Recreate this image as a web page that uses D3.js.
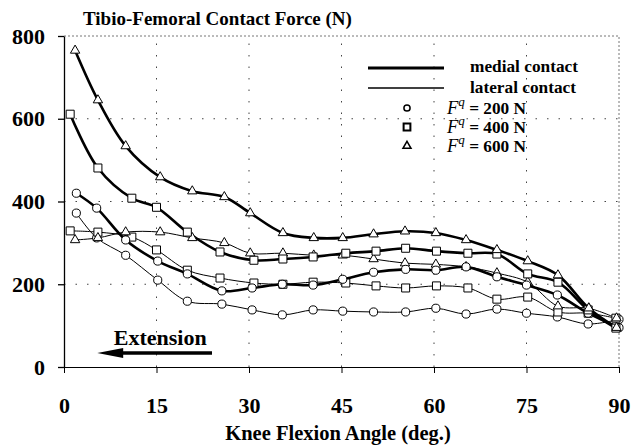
<!DOCTYPE html>
<html>
<head>
<meta charset="utf-8">
<script src="https://cdn.jsdelivr.net/npm/d3@7"></script>
<style>
  body { margin: 0; background: #fff; }
  svg { font-family: "Liberation Serif", "Times New Roman", serif; font-weight: bold; }
</style>
</head>
<body>
<div id="chart"></div>
<script>
// tick values
const xTicks = [0, 15, 30, 45, 60, 75, 90];
const yTicks = [0, 200, 400, 600, 800];

// knee flexion angles (deg.) for each quadriceps load
const angles200 = [2, 5.3, 10, 15.2, 20, 25.6, 30.5, 35.4, 40.4, 45.2, 50.2, 55.4, 60.3, 65.2, 70.2, 75, 80, 85, 90];
const angles400 = [1, 5.5, 11, 15, 20, 25.3, 30.8, 35.5, 40.4, 45.7, 50.6, 55.4, 60.4, 65.5, 70.2, 75.2, 80.1, 85, 89.5];
const angles600 = [1.8, 5.5, 10, 15.6, 20.8, 26, 30.2, 35.5, 40.5, 45.2, 50.2, 55.3, 60.3, 65.2, 70.2, 75.2, 80.1, 85.1, 89.6];

// medial contact force (N)
const medial200 = [420, 384, 307, 256, 225, 184, 191, 200, 198, 212, 229, 236, 234, 242, 218, 198, 174, 130, 95];
const medial400 = [611, 481, 408, 386, 326, 278, 258, 261, 266, 275, 280, 287, 280, 275, 273, 225, 205, 138, 94];
const medial600 = [765, 645, 534, 459, 425, 411, 372, 324, 312, 312, 321, 328, 324, 307, 283, 256, 222, 142, 95];

// lateral contact force (N)
const lateral200 = [372, 312, 270, 210, 159, 152, 138, 126, 138, 135, 133, 133, 142, 128, 140, 130, 121, 104, 115];
const lateral400 = [329, 326, 314, 283, 234, 215, 203, 200, 205, 203, 196, 191, 196, 191, 164, 169, 133, 130, 118];
const lateral600 = [307, 312, 326, 326, 312, 300, 275, 275, 270, 270, 261, 251, 248, 242, 227, 205, 147, 142, 118];

const width = 633;
const height = 447;
const margin = { top: 36, right: 14, bottom: 80, left: 64 };

const svg = d3.select("#chart").append("svg")
  .attr("width", width)
  .attr("height", height);

const x = d3.scaleLinear().domain([0, 90]).range([margin.left, width - margin.right]);
const y = d3.scaleLinear().domain([0, 800]).range([height - margin.bottom, margin.top]);

// grid
const grid = svg.append("g").attr("stroke", "#444").attr("stroke-width", 1);
grid.selectAll(".vgrid")
  .data(xTicks.filter(d => d > 0 && d < 90))
  .join("line")
  .attr("x1", d => x(d)).attr("x2", d => x(d))
  .attr("y1", y(0)).attr("y2", y(800))
  .attr("stroke-dasharray", "1.5,10");
grid.selectAll(".hgrid")
  .data(yTicks.filter(d => d > 0 && d < 800))
  .join("line")
  .attr("x1", x(0)).attr("x2", x(90))
  .attr("y1", d => y(d)).attr("y2", d => y(d))
  .attr("stroke-dasharray", "1.5,10");
// top and right frame
grid.append("line")
  .attr("x1", x(0)).attr("x2", x(90)).attr("y1", y(800)).attr("y2", y(800))
  .attr("stroke-dasharray", "2,2").attr("stroke", "#777");
grid.append("line")
  .attr("x1", x(90)).attr("x2", x(90)).attr("y1", y(0)).attr("y2", y(800))
  .attr("stroke-dasharray", "2,2").attr("stroke", "#777");

// axes
const xAxis = d3.axisBottom(x).tickValues(xTicks).tickSize(6).tickPadding(24).tickSizeOuter(0);
const yAxis = d3.axisLeft(y).tickValues(yTicks).tickSize(6).tickPadding(13).tickSizeOuter(0);

svg.append("g")
  .attr("transform", `translate(0,${y(0)})`)
  .call(xAxis)
  .attr("font-family", null)
  .attr("font-size", 22)
  .call(g => g.selectAll("text").attr("fill", "#000"))
  .call(g => g.selectAll("line,path").attr("stroke", "#000"));

svg.append("g")
  .attr("transform", `translate(${x(0)},0)`)
  .call(yAxis)
  .attr("font-family", null)
  .attr("font-size", 22)
  .call(g => g.selectAll("text").attr("fill", "#000"))
  .call(g => g.selectAll("line,path").attr("stroke", "#000").attr("stroke-width", 1.3));

// series
const series = [
  { angles: angles200, values: lateral200, type: "lateral", marker: "circle" },
  { angles: angles400, values: lateral400, type: "lateral", marker: "square" },
  { angles: angles600, values: lateral600, type: "lateral", marker: "triangle" },
  { angles: angles200, values: medial200, type: "medial", marker: "circle" },
  { angles: angles400, values: medial400, type: "medial", marker: "square" },
  { angles: angles600, values: medial600, type: "medial", marker: "triangle" }
];

const line = d3.line()
  .x(d => x(d[0]))
  .y(d => y(d[1]))
  .curve(d3.curveCatmullRom.alpha(0.5));

svg.append("g").selectAll("path")
  .data(series)
  .join("path")
  .attr("fill", "none")
  .attr("stroke", "#000")
  .attr("stroke-width", d => d.type === "medial" ? 2.6 : 1)
  .attr("d", d => line(d.angles.map((a, i) => [a, d.values[i]])));

const symbols = {
  circle: d3.symbol().type(d3.symbolCircle).size(52),
  square: d3.symbol().type(d3.symbolSquare).size(64),
  triangle: d3.symbol().type(d3.symbolTriangle).size(38)
};

const markers = svg.append("g");
series.forEach(s => {
  markers.append("g").selectAll("path")
    .data(s.angles.map((a, i) => [a, s.values[i]]))
    .join("path")
    .attr("transform", d => `translate(${x(d[0])},${y(d[1])})`)
    .attr("d", symbols[s.marker]())
    .attr("fill", "#fff")
    .attr("stroke", "#000")
    .attr("stroke-width", 1);
});

// title and axis label
svg.append("text")
  .attr("x", 83).attr("y", 25)
  .attr("font-size", 19)
  .text("Tibio-Femoral Contact Force (N)");

svg.append("text")
  .attr("x", 338).attr("y", 440)
  .attr("text-anchor", "middle")
  .attr("font-size", 20.5)
  .text("Knee Flexion Angle (deg.)");

// extension arrow
svg.append("text")
  .attr("x", x(15.6)).attr("y", y(53))
  .attr("text-anchor", "middle")
  .attr("font-size", 22)
  .text("Extension");
svg.append("line")
  .attr("x1", x(24)).attr("x2", x(8))
  .attr("y1", y(34)).attr("y2", y(34))
  .attr("stroke", "#000").attr("stroke-width", 3.5);
svg.append("path")
  .attr("d", `M${x(5.4)},${y(34)} L${x(9.6)},${y(34) - 5} L${x(9.6)},${y(34) + 5} Z`)
  .attr("fill", "#000");

// legend
const legend = svg.append("g").attr("font-size", 17.3);
legend.append("line").attr("x1", 368).attr("x2", 444).attr("y1", 68).attr("y2", 68)
  .attr("stroke", "#000").attr("stroke-width", 3.2);
legend.append("text").attr("x", 470).attr("y", 66).attr("dy", "0.32em").text("medial contact");
legend.append("line").attr("x1", 368).attr("x2", 444).attr("y1", 88).attr("y2", 88)
  .attr("stroke", "#000").attr("stroke-width", 1.4);
legend.append("text").attr("x", 470).attr("y", 87).attr("dy", "0.32em").text("lateral contact");

const legendLoads = [
  { label: "200 N", marker: "circle", y: 108 },
  { label: "400 N", marker: "square", y: 127 },
  { label: "600 N", marker: "triangle", y: 146 }
];
legendLoads.forEach(l => {
  legend.append("path")
    .attr("transform", `translate(407,${l.y})`)
    .attr("d", d3.symbol().type(
      l.marker === "circle" ? d3.symbolCircle : l.marker === "square" ? d3.symbolSquare : d3.symbolTriangle
    ).size(l.marker === "circle" ? 30 : l.marker === "square" ? 46 : 28)())
    .attr("fill", "#fff").attr("stroke", "#000")
    .attr("stroke-width", l.marker === "square" ? 2 : 1.5);
  const t = legend.append("text").attr("x", 447).attr("y", l.y).attr("dy", "0.32em");
  t.append("tspan").attr("font-style", "italic").attr("font-weight", "normal")
    .attr("font-size", 18.5).text("F");
  t.append("tspan").attr("font-style", "italic").attr("font-weight", "normal")
    .attr("font-size", 13).attr("dy", "-0.6em").text("q");
  t.append("tspan").attr("dy", "0.5em").text(" = " + l.label);
});
</script>
</body>
</html>
